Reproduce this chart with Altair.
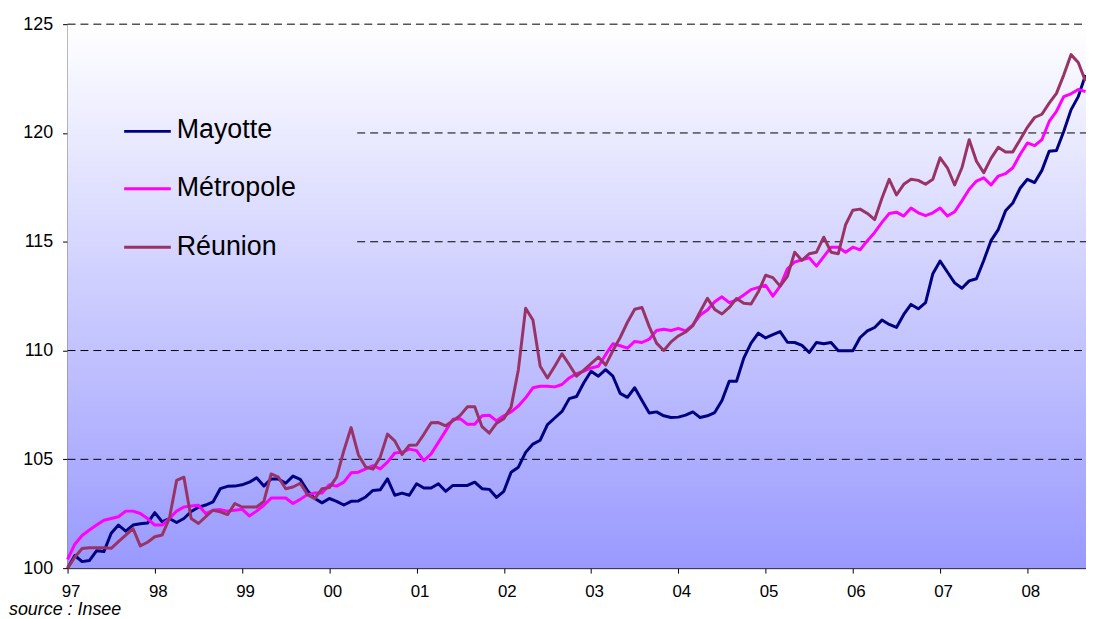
import altair as alt
import pandas as pd

series_names = ["Mayotte", "Métropole", "Réunion"]
series_colors = ["#000080", "#FF00FF", "#993366"]

mayotte = [100.0, 100.58, 100.3, 100.35, 100.8, 100.76, 101.6, 101.98, 101.7, 101.98,
           102.04, 102.07, 102.55, 102.13, 102.28, 102.1, 102.28, 102.6, 102.8, 102.9,
           103.04, 103.65, 103.76, 103.77, 103.83, 103.95, 104.15, 103.77, 104.1, 104.1,
           103.9, 104.23, 104.08, 103.55, 103.2, 103.0, 103.2, 103.07, 102.9, 103.07,
           103.09, 103.27, 103.57, 103.6, 104.1, 103.35, 103.45, 103.35, 103.88, 103.68,
           103.68, 103.88, 103.53, 103.8, 103.8, 103.8, 103.95, 103.65, 103.62, 103.25,
           103.53, 104.41, 104.64, 105.32, 105.7, 105.88, 106.6, 106.9, 107.2, 107.79,
           107.89, 108.52, 109.05, 108.82, 109.12, 108.82, 108.03, 107.85, 108.29, 107.7,
           107.13, 107.18, 107.0, 106.92, 106.94, 107.03, 107.18, 106.92, 107.0, 107.15,
           107.7, 108.59, 108.59, 109.65, 110.34, 110.8, 110.58, 110.73, 110.87, 110.38,
           110.37, 110.24, 109.91, 110.37, 110.31, 110.37, 109.99, 109.99, 109.99, 110.6,
           110.9, 111.06, 111.4, 111.2, 111.06, 111.66, 112.12, 111.92, 112.2, 113.53,
           114.11, 113.61, 113.11, 112.86, 113.2, 113.3, 114.14, 115.05, 115.56, 116.42,
           116.78, 117.46, 117.87, 117.72, 118.28, 119.16, 119.19, 120.07, 121.06, 121.67, 122.66]

metropole = [100.4, 101.1, 101.5, 101.75, 101.98, 102.2, 102.28, 102.36, 102.62, 102.62,
             102.51, 102.28, 101.98, 101.98, 102.28, 102.62, 102.81, 102.86, 102.89, 102.51,
             102.66, 102.69, 102.62, 102.66, 102.71, 102.4, 102.62, 102.89, 103.22, 103.22,
             103.22, 102.97, 103.16, 103.38, 103.45, 103.45, 103.83, 103.77, 103.95, 104.38,
             104.41, 104.56, 104.71, 104.56, 104.87, 105.29, 105.32, 105.47, 105.4, 104.94,
             105.25, 105.78, 106.31, 106.84, 106.87, 106.61, 106.61, 107.0, 107.03, 106.77,
             107.0, 107.18, 107.45, 107.83, 108.29, 108.36, 108.36, 108.33, 108.44, 108.74,
             108.94, 109.05, 109.2, 109.28, 109.81, 110.31, 110.22, 110.11, 110.42, 110.37,
             110.52, 110.92, 110.98, 110.92, 111.02, 110.9, 111.18, 111.63, 111.86, 112.24,
             112.47, 112.2, 112.32, 112.55, 112.8, 112.9, 113.0, 112.5, 112.96, 113.76,
             114.07, 114.17, 114.26, 113.88, 114.32, 114.75, 114.75, 114.52, 114.75, 114.63,
             115.05, 115.43, 115.89, 116.3, 116.36, 116.18, 116.55, 116.33, 116.2, 116.33,
             116.55, 116.18, 116.38, 116.88, 117.41, 117.79, 117.94, 117.61, 118.02, 118.13,
             118.4, 119.01, 119.54, 119.42, 119.69, 120.53, 120.99, 121.67, 121.8, 122.0, 121.9]

reunion = [100.0, 100.5, 100.9, 100.94, 100.94, 100.94, 100.91, 101.22, 101.52, 101.82,
           101.02, 101.19, 101.44, 101.52, 102.28, 104.03, 104.18, 102.28, 102.05, 102.36,
           102.66, 102.59, 102.46, 102.97, 102.81, 102.81, 102.81, 103.07, 104.33, 104.18,
           103.65, 103.73, 103.9, 103.38, 103.19, 103.65, 103.7, 104.18, 105.4, 106.46,
           105.2, 104.65, 104.55, 105.1, 106.16, 105.85, 105.22, 105.65, 105.66, 106.15,
           106.68, 106.69, 106.54, 106.77, 107.02, 107.42, 107.42, 106.5, 106.2, 106.66,
           106.87, 107.4, 109.12, 111.94, 111.4, 109.28, 108.74, 109.28, 109.85, 109.35,
           108.82, 109.1, 109.4, 109.7, 109.33, 110.0, 110.6, 111.3, 111.9, 111.98,
           111.1, 110.34, 110.0, 110.4, 110.67, 110.85, 111.15, 111.79, 112.4, 111.89,
           111.68, 111.98, 112.39, 112.17, 112.14, 112.7, 113.46, 113.35, 112.96, 113.41,
           114.52, 114.14, 114.45, 114.52, 115.21, 114.52, 114.45, 115.78, 116.45, 116.5,
           116.3, 116.02, 117.0, 117.87, 117.15, 117.64, 117.87, 117.82, 117.64, 117.87,
           118.86, 118.4, 117.61, 118.4, 119.69, 118.7, 118.17, 118.83, 119.34, 119.13,
           119.13, 119.69, 120.26, 120.71, 120.86, 121.37, 121.82, 122.66, 123.6, 123.24, 122.38]

year_ticks = list(range(1997, 2009))
y_ticks = [100, 105, 110, 115, 120, 125]
grid_levels = [105, 110, 115, 120, 125]
grid_starts = [1997, 1997, 2000.32, 2000.32, 1997]
source_text = "source : Insee"

FONT = "Liberation Sans"
W, H = 1026, 548
X_MIN, X_MAX = 1997, 2008.672

n = len(mayotte)
months = [1997 + i / 12 for i in range(n)]
df = pd.DataFrame({
    "t": months * 3,
    "v": mayotte + metropole + reunion,
    "serie": [series_names[0]] * n + [series_names[1]] * n + [series_names[2]] * n,
})

x_scale = alt.Scale(domain=[X_MIN, X_MAX], nice=False, zero=False)
y_scale = alt.Scale(domain=[100, 125], nice=False, zero=False)

x_axis = alt.Axis(values=year_ticks, labelExpr="slice(toString(datum.value), 2)",
                  title="", grid=False, domainColor="black", tickColor="black",
                  tickSize=5, labelFont=FONT, labelFontSize=17, labelColor="black",
                  labelPadding=11, labelOffset=3, labelFlush=False, labelOverlap=False)
y_axis = alt.Axis(values=y_ticks, format="d", title="", grid=False,
                  domainColor="black", tickColor="black", tickSize=5,
                  labelFont=FONT, labelFontSize=18, labelColor="black",
                  labelPadding=10, labelFlush=False, labelOverlap=False)

one = pd.DataFrame({"k": [0]})

bg = alt.Chart(one).mark_rect(
    fill=alt.Gradient(
        gradient="linear",
        stops=[alt.GradientStop(color="#FFFFFF", offset=0),
               alt.GradientStop(color="#9999FF", offset=1)],
        x1=0, x2=0, y1=0, y2=1,
    )
).encode(x=alt.value(0), x2=alt.value(W), y=alt.value(0), y2=alt.value(H))

grid_df = pd.DataFrame({"y": grid_levels, "x0": grid_starts, "x1": [X_MAX] * len(grid_levels)})
grid = alt.Chart(grid_df).mark_rule(color="black", strokeDash=[8, 5], strokeWidth=1).encode(
    x=alt.X("x0:Q", scale=x_scale, axis=x_axis),
    x2="x1:Q",
    y=alt.Y("y:Q", scale=y_scale, axis=y_axis),
)

line_layers = []
for name, col in zip(series_names, series_colors):
    line_layers.append(
        alt.Chart(df).transform_filter(alt.datum.serie == name)
        .mark_line(color=col, strokeWidth=3, strokeJoin="round")
        .encode(x=alt.X("t:Q", scale=x_scale, axis=x_axis),
                y=alt.Y("v:Q", scale=y_scale, axis=y_axis))
    )

# in-plot legend (layout positions in pixels of the plot area)
legend_line_y = [108, 165.7, 224.7]
legend_text_y = [115, 173.3, 233]
legend_layers = []
for name, col, ly, ty in zip(series_names, series_colors, legend_line_y, legend_text_y):
    legend_layers.append(
        alt.Chart(one).mark_rule(color=col, strokeWidth=3)
        .encode(x=alt.value(57), x2=alt.value(104), y=alt.value(ly))
    )
    legend_layers.append(
        alt.Chart(one).mark_text(text=name, align="left", baseline="alphabetic",
                                 font=FONT, fontSize=27, color="black")
        .encode(x=alt.value(110), y=alt.value(ty))
    )

source = alt.Chart(one).mark_text(text=source_text, align="left", baseline="alphabetic",
                                  font=FONT, fontSize=18, fontStyle="italic", color="black"
                                  ).encode(x=alt.value(-59), y=alt.value(595))

chart = alt.layer(bg, grid, *line_layers, *legend_layers, source).properties(
    width=W, height=H,
    autosize=alt.AutoSizeParams(type="none"),
    padding={"left": 60, "top": 14, "right": 0, "bottom": 54},
).configure_view(stroke="transparent").configure(background="white")

chart.save("out.html", embed_options={"renderer": "svg", "actions": False})
